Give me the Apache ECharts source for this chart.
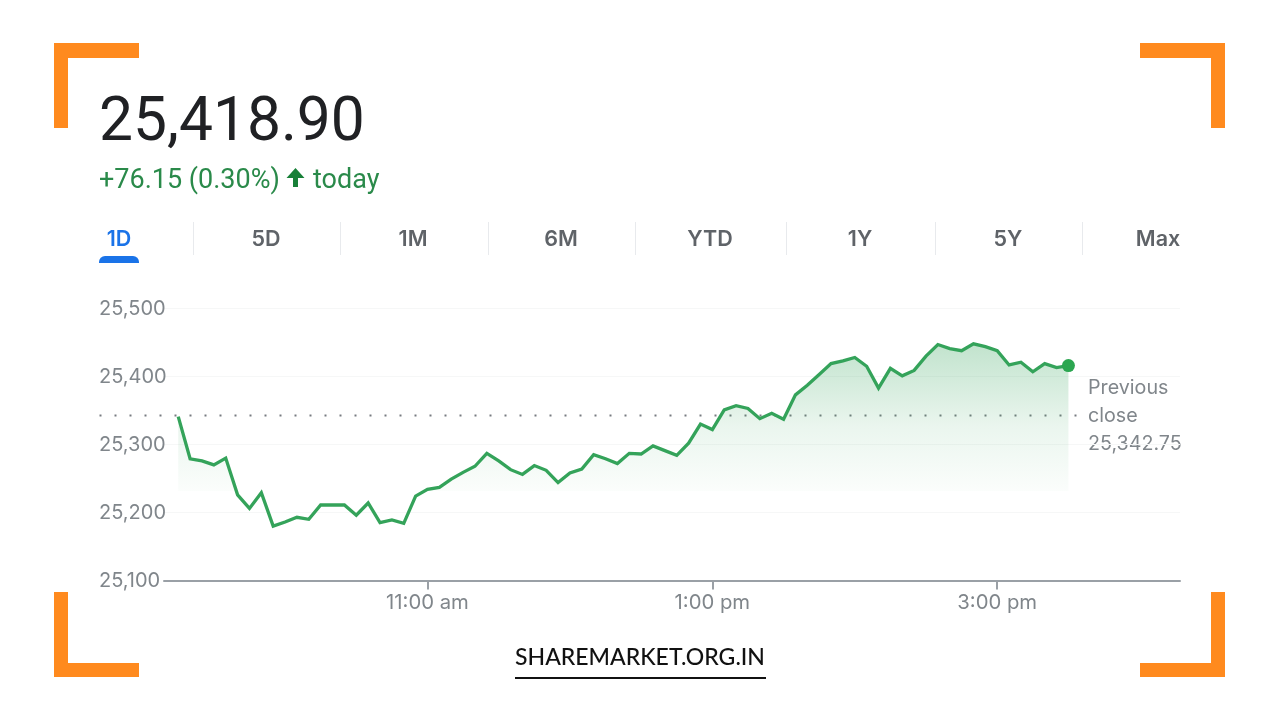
<!DOCTYPE html>
<html>
<head>
<meta charset="utf-8">
<style>html,body{margin:0;padding:0;background:#fff}#c{width:1280px;height:720px}</style>
<script src="https://cdn.jsdelivr.net/npm/echarts@6/dist/echarts.min.js"></script>
</head>
<body>
<div id="c"></div>
<script>
const startMinute = 555;
const stepMinutes = 5;
const prices = [
  25341,25279,25276,25270,25280,25226,25206,25229,25180,25186,
  25193,25190,25211,25211,25211,25196,25214,25185,25189,25184,
  25224,25234,25237,25249,25259,25268,25287,25276,25263,25256,
  25269,25262,25244,25258,25264,25285,25279,25272,25287,25286,
  25298,25291,25284,25302,25330,25322,25351,25357,25353,25338,
  25346,25337,25373,25387,25403,25419,25423,25428,25415,25383,
  25412,25401,25409,25430,25447,25441,25438,25448,25444,25438,
  25417,25421,25407,25419,25413,25416
];
const previousClose = 25342.75;
const xTickMinutes = [660, 780, 900];
const xTickLabels = ['11:00 am', '1:00 pm', '3:00 pm'];
const tabLabels = ['1D','5D','1M','6M','YTD','1Y','5Y','Max'];
const quote = '25,418.90';
const change = '+76.15 (0.30%)';
const changeSuffix = 'today';
const closeLines = ['Previous','close','25,342.75'];
const brand = 'SHAREMARKET.ORG.IN';

const linePoints = prices.map((p, i) => [startMinute + i * stepMinutes, p]);
const font = 'Roboto, sans-serif';
const uiFont = 'Inter, sans-serif';
const orange = '#ff8a1e';
const tabX = [119,266,413,561,710,860,1008,1158];
const sepX = [193,340,488,635,786,935,1082];

const gfx = [];
const rect = (x,y,w,h,fill,r) => gfx.push({type:'rect',silent:true,shape:{x,y,width:w,height:h,r:r||0},style:{fill}});
const text = (x,y,t,size,fill,opt) => gfx.push({type:'text',silent:true,x,y,style:Object.assign({text:t,fontFamily:font,fontSize:size,fill,textAlign:'left',textVerticalAlign:'middle'},opt||{})});

// corner brackets
rect(54,43,85,15,orange); rect(54,43,14,85,orange);
rect(1140,43,85,15,orange); rect(1211,43,14,85,orange);
rect(54,663,85,14,orange); rect(54,592,14,85,orange);
rect(1140,663,85,14,orange); rect(1211,592,14,85,orange);

// header
text(99,125,quote,60.5,'#202124');
text(99,181,change,27,'#2a8a4a');
text(313,181,changeSuffix,27,'#2a8a4a');
gfx.push({type:'polygon',silent:true,shape:{points:[[295.5,168],[304.5,178],[298,178],[298,187],[293,187],[293,178],[286.5,178]]},style:{fill:'#188038'}});

// tabs
tabLabels.forEach((t,i)=>text(tabX[i],239.5,t,21.5,i===0?'#1a73e8':'#5f6368',{textAlign:'center',fontWeight:600,fontFamily:uiFont}));
sepX.forEach(x=>rect(x,222,1,33,'#e8eaed'));
rect(99,256,40,7,'#1a73e8',[6,6,0,0]);

// previous close label
closeLines.forEach((t,i)=>text(1088,388.5+i*27.7,t,19.7,'#80868b',{fontFamily:uiFont}));

// brand
text(640,657.5,brand,23,'#111111',{textAlign:'center',fontFamily:'Lato, sans-serif',fontWeight:500});
rect(515,677,251,2,'#111111');

const chart = echarts.init(document.getElementById('c'), null, {renderer:'canvas'});
chart.setOption({
  animation:false,
  backgroundColor:'#ffffff',
  graphic:gfx,
  grid:[
    {left:164,right:100,top:308.5,height:272},
    {left:99.5,right:193,top:308.5,height:272}
  ],
  xAxis:[
    {type:'value',gridIndex:0,min:549,max:977,splitLine:{show:false},
     axisLine:{lineStyle:{color:'#9aa0a6',width:2}},
     axisTick:{show:true,length:9,customValues:xTickMinutes,lineStyle:{color:'#9aa0a6',width:2}},
     axisLabel:{customValues:xTickMinutes,margin:12,color:'#80868b',fontFamily:uiFont,fontSize:20.3,
       formatter:v=>xTickLabels[xTickMinutes.indexOf(v)]}},
    {type:'value',gridIndex:1,min:0,max:1,show:false}
  ],
  yAxis:[
    {type:'value',gridIndex:0,min:25100,max:25500,interval:100,
     axisLine:{show:false},axisTick:{show:false},
     splitLine:{lineStyle:{color:'#f6f7f7',width:1}},
     axisLabel:{align:'left',margin:65,color:'#80868b',fontFamily:uiFont,fontSize:20,
       formatter:v=>v.toLocaleString('en-US')}},
    {type:'value',gridIndex:1,min:25100,max:25500,show:false}
  ],
  series:[
    {type:'line',name:'Previous close',xAxisIndex:1,yAxisIndex:1,symbol:'none',silent:true,z:1,
     data:[[0,previousClose],[1,previousClose]],
     lineStyle:{color:'#777b80',width:2,type:[2,13]}},
    {type:'line',name:'Price',xAxisIndex:0,yAxisIndex:0,symbol:'none',z:3,data:linePoints,
     lineStyle:{color:'#34a35a',width:3.3,join:'miter'},
     areaStyle:{origin:'start',opacity:1,color:{type:'linear',x:0,y:0,x2:0,y2:1,colorStops:[
       {offset:0,color:'rgba(52,163,90,0.30)'},
       {offset:0.35,color:'rgba(52,163,90,0.10)'},
       {offset:0.62,color:'rgba(52,163,90,0.02)'},
       {offset:0.621,color:'rgba(52,163,90,0)'},
       {offset:1,color:'rgba(52,163,90,0)'}]}}},
    {type:'scatter',name:'Last',xAxisIndex:0,yAxisIndex:0,symbolSize:13,z:4,
     data:[linePoints[linePoints.length-1]],itemStyle:{color:'#2ba650',opacity:1}}
  ]
});
</script>
</body>
</html>
